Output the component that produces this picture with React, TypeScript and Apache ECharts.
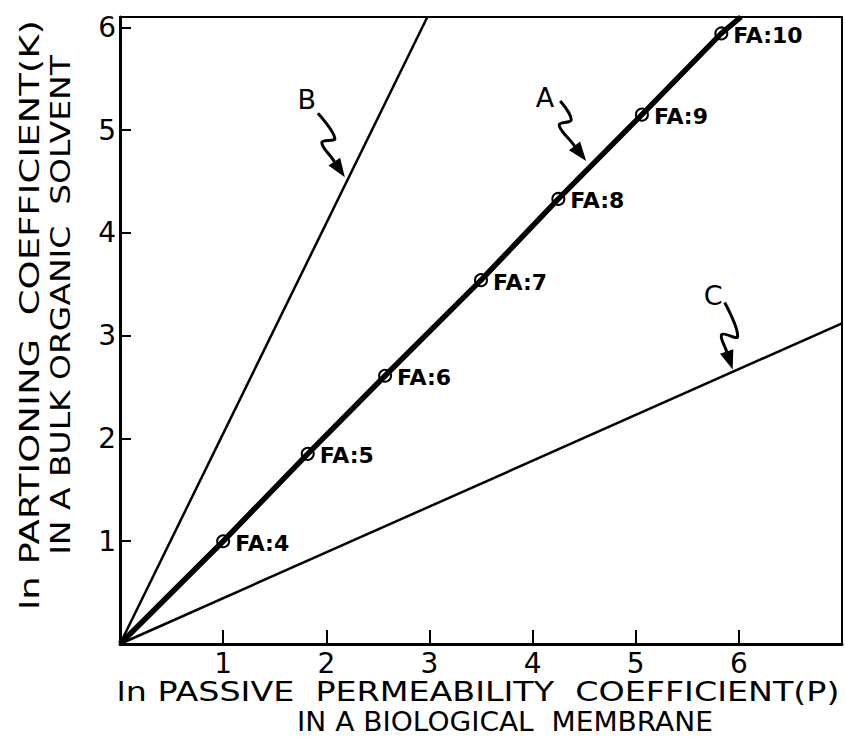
import React, { useEffect, useRef } from 'react';
import * as echarts from 'echarts';

// ---- data ----
const faLabels = ['FA:4', 'FA:5', 'FA:6', 'FA:7', 'FA:8', 'FA:9', 'FA:10'];
const faX = [1.0, 1.82, 2.57, 3.5, 4.25, 5.06, 5.83];
const faY = [1.0, 1.85, 2.61, 3.54, 4.33, 5.15, 5.94];
const lineAEnd = [6.02, 6.1];
const lineBEnd = [2.98, 6.1];
const lineCEnd = [7.0, 3.12];
const origin = [0, 0];
const curveNames = ['A', 'B', 'C'];
const curveLabelAt = [
  [4.12, 5.32],
  [1.81, 5.3],
  [5.75, 3.39],
];
const curveArrowTip = [
  [4.52, 4.7],
  [2.18, 4.54],
  [5.94, 2.67],
];
const xTitle = ['ln PASSIVE  PERMEABILITY  COEFFICIENT(P)', 'IN A BIOLOGICAL  MEMBRANE'];
const yTitle = ['ln PARTIONING  COEFFICIENT(K)', 'IN A BULK ORGANIC  SOLVENT'];

// squiggle shapes (pixel offsets from arrow tip)
const squiggles = [
  [[-26, -60], [-15, -41], [-27, -36], [-14, -18], [0, 0]],
  [[-27, -64], [-10, -39], [-23, -35], [-12, -18], [0, 0]],
  [[-8, -67], [5, -33], [-11, -35], [-6, -18], [0, 0]],
];

const FONT = 'DejaVu Sans';

function measure(text: string, size: number, weight = 'normal') {
  const c = document.createElement('canvas').getContext('2d')!;
  c.font = `${weight} ${size}px "${FONT}"`;
  return c.measureText(text).width;
}

export default function App() {
  const ref = useRef<HTMLDivElement>(null);
  useEffect(() => {
    if (!ref.current) return;
    const chart = echarts.init(ref.current, undefined, { renderer: 'svg' });
    const faPts = faX.map((x, i) => [x, faY[i]]);
    chart.setOption({
      animation: false,
      backgroundColor: '#fff',
      grid: {
        left: 120,
        right: 3,
        top: 17,
        bottom: 100,
        show: true,
        borderColor: '#000',
        borderWidth: 2,
      },
      xAxis: {
        type: 'value',
        min: 0,
        max: 7,
        interval: 1,
        splitLine: { show: false },
        axisLine: { onZero: false, lineStyle: { color: '#000', width: 3 } },
        axisTick: { inside: true, length: 14, lineStyle: { color: '#000', width: 2 } },
        axisLabel: {
          showMinLabel: false,
          showMaxLabel: false,
          margin: 5,
          color: '#000',
          fontSize: 28,
          fontFamily: FONT,
        },
      },
      yAxis: {
        type: 'value',
        min: 0,
        max: 6.1,
        interval: 1,
        splitLine: { show: false },
        axisLine: { onZero: false, lineStyle: { color: '#000', width: 3 } },
        axisTick: { inside: true, length: 11, lineStyle: { color: '#000', width: 2 } },
        axisLabel: {
          showMinLabel: false,
          showMaxLabel: false,
          margin: 4,
          color: '#000',
          fontSize: 28,
          fontFamily: FONT,
          formatter: (v: number) => (Number.isInteger(v) ? String(v) : ''),
        },
      },
      series: [
        {
          type: 'line',
          data: [origin, lineBEnd],
          showSymbol: false,
          lineStyle: { color: '#000', width: 2.5 },
        },
        {
          type: 'line',
          data: [origin, lineCEnd],
          showSymbol: false,
          lineStyle: { color: '#000', width: 2.5 },
        },
        {
          type: 'line',
          data: [origin, ...faPts, lineAEnd],
          showSymbol: false,
          lineStyle: { color: '#000', width: 5.5 },
        },
        {
          type: 'scatter',
          data: faPts,
          symbol: 'circle',
          symbolSize: 19,
          itemStyle: { color: '#fff', opacity: 1 },
        },
        {
          type: 'scatter',
          data: faPts,
          symbol: 'circle',
          symbolSize: 12,
          itemStyle: { color: '#fff', borderColor: '#000', borderWidth: 2, opacity: 1 },
          label: {
            show: true,
            position: 'right',
            distance: 5,
            offset: [0, 2],
            formatter: (p: any) => faLabels[p.dataIndex],
            color: '#000',
            fontSize: 22,
            fontWeight: 'bold',
            fontFamily: FONT,
          },
        },
      ],
    });

    const graphics: any[] = [];
    curveNames.forEach((name, i) => {
      const [tx, ty] = chart.convertToPixel({ gridIndex: 0 }, curveArrowTip[i]) as number[];
      const [lx, ly] = chart.convertToPixel({ gridIndex: 0 }, curveLabelAt[i]) as number[];
      graphics.push({
        type: 'text',
        x: lx,
        y: ly,
        style: {
          text: name,
          fontSize: 27,
          fontFamily: FONT,
          fill: '#000',
          align: 'center',
          verticalAlign: 'middle',
        },
      });
      const sq = squiggles[i];
      const [px, py] = sq[3];
      const pts = sq.slice(0, 4).map(([dx, dy]) => [tx + dx, ty + dy]);
      pts.push([tx + px * 0.3, ty + py * 0.3]);
      graphics.push({
        type: 'polyline',
        shape: { points: pts, smooth: 0.4 },
        style: { stroke: '#000', lineWidth: 3, fill: null },
      });
      const len = Math.hypot(px, py);
      const dx = -px / len;
      const dy = -py / len;
      const L = 19;
      const W = 7;
      graphics.push({
        type: 'polygon',
        shape: {
          points: [
            [tx, ty],
            [tx - dx * L - dy * W, ty - dy * L + dx * W],
            [tx - dx * L + dy * W, ty - dy * L - dx * W],
          ],
        },
        style: { fill: '#000' },
      });
    });

    // axis titles, stretched to the reference's wide lettering
    const xTitleBoxes = [
      { cx: 478, cy: 692, w: 723, size: 26 },
      { cx: 505, cy: 722, w: 416, size: 26 },
    ];
    xTitle.forEach((t, i) => {
      const b = xTitleBoxes[i];
      graphics.push({
        type: 'text',
        x: b.cx,
        y: b.cy,
        scaleX: b.w / measure(t, b.size),
        style: {
          text: t,
          fontSize: b.size,
          fontFamily: FONT,
          fill: '#000',
          align: 'center',
          verticalAlign: 'middle',
        },
      });
    });
    const yTitleBoxes = [
      { cx: 30, cy: 315, w: 590, size: 27 },
      { cx: 61, cy: 305, w: 500, size: 27 },
    ];
    yTitle.forEach((t, i) => {
      const b = yTitleBoxes[i];
      graphics.push({
        type: 'text',
        x: b.cx,
        y: b.cy,
        rotation: Math.PI / 2,
        scaleX: b.w / measure(t, b.size),
        style: {
          text: t,
          fontSize: b.size,
          fontFamily: FONT,
          fill: '#000',
          align: 'center',
          verticalAlign: 'middle',
        },
      });
    });
    chart.setOption({ graphic: graphics });

    return () => chart.dispose();
  }, []);
  return <div ref={ref} style={{ position: 'fixed', left: 0, top: 0, width: 845, height: 744 }} />;
}
